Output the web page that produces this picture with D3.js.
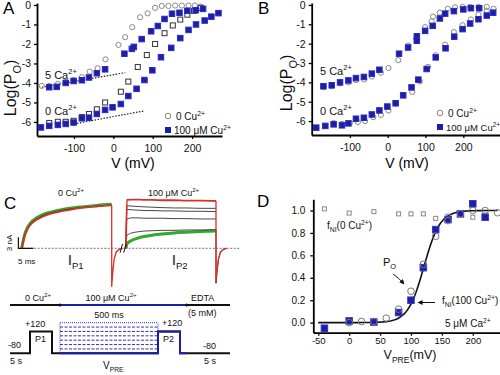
<!DOCTYPE html>
<html><head><meta charset="utf-8">
<script src="https://cdn.jsdelivr.net/npm/d3@7"></script>
<style>
body{margin:0;background:#fff}
svg{display:block;font-family:'Liberation Sans',Arial,sans-serif}
</style>
</head><body>
<svg id="fig" width="500" height="375"></svg>
<script>
// ---------- data ----------
const ticksLog = [0, -1, -2, -3, -4, -5, -6]
const ticksV = [-100, 0, 100, 200]

// panel A  [mV, log Po]
const a5Ca0Cu = [[-182,-4.15],[-163,-4.15],[-141,-4.05],[-121,-3.95],[-101,-3.85],[-80,-3.7],[-60,-3.42],[-40,-3.25],[-20,-2.79],[13,-2.05],[30,-1.65],[48,-1.14],[68,-0.63],[87,-0.43],[106,-0.15],[123,-0.05],[140,-0.05],[157,-0.03],[174,-0.03],[191,-0.03],[207,-0.03],[221,-0.08]]
const a5Ca100Cu = [[-163,-4.22],[-144,-4.2],[-121,-4.0],[-101,-3.9],[-80,-3.86],[-62,-3.72],[-42,-3.5],[-21,-3.3],[28,-2.5],[47,-2.25],[52,-2.15],[72,-1.75],[96,-1.35],[113,-1.08],[130,-0.72],[149,-0.45],[168,-0.4],[188,-0.3],[209,-0.27],[228,-0.2]]
const a0Ca0Cu = [[-163,-6.05],[-141,-5.99],[-121,-5.99],[-101,-5.94],[-80,-5.75],[-62,-5.59],[-42,-5.35],[-21,-5.0],[19,-4.45],[38,-3.93],[62,-3.18],[85,-2.57],[106,-2.0],[130,-1.45],[151,-1.05],[170,-0.75],[188,-0.5],[205,-0.3],[222,-0.15]]
const a0Ca100Cu = [[-184,-6.28],[-163,-6.2],[-141,-6.15],[-121,-6.1],[-101,-6.03],[-80,-5.81],[-62,-5.78],[-42,-5.59],[-21,-5.38],[-2,-5.25],[19,-5.08],[38,-4.67],[59,-4.3],[79,-3.85],[99,-3.35],[121,-2.68],[147,-2.2],[170,-1.7],[191,-1.28],[210,-1.0],[232,-0.8],[249,-0.6],[267,-0.42]]
const aLimit5Ca = [[-182,-4.22],[30,-3.47]]
const aLimit0Ca = [[-100,-6.1],[76,-5.44]]

// panel B  [mV, log Po]
const b5Ca0Cu = [[-170,-4.25],[-148,-4.2],[-126,-4.05],[-104,-4.0],[-84,-3.88],[-62,-3.85],[-42,-3.7],[-18,-3.5],[2,-3.26],[28,-2.85],[54,-2.1],[76,-1.75],[99,-1.15],[116,-0.85],[120,-0.6],[138,-0.4],[159,-0.2],[178,-0.12],[198,-0.1],[218,-0.1],[240,-0.1],[262,-0.1]]
const b5Ca100Cu = [[-170,-4.2],[-148,-4.15],[-126,-4.0],[-104,-3.9],[-84,-3.78],[-63,-3.72],[-42,-3.55],[-22,-3.35],[30,-2.52],[54,-2.2],[77,-1.62],[77,-1.85],[99,-1.34],[119,-1.08],[138,-0.7],[152,-0.45],[175,-0.32],[200,-0.23],[220,-0.17],[242,-0.17]]
const b0Ca0Cu = [[-143,-6.1],[-121,-6.15],[-100,-6.1],[-79,-6.05],[-60,-6.0],[-38,-5.8],[-18,-5.68],[2,-5.45],[21,-5.1],[65,-4.5],[85,-3.95],[107,-3.2],[127,-2.6],[152,-2.05],[175,-1.4],[198,-1.05],[220,-0.75],[240,-0.5],[262,-0.3],[280,-0.2]]
const b0Ca100Cu = [[-189,-6.34],[-165,-6.25],[-143,-6.17],[-121,-6.22],[-104,-6.12],[-84,-5.88],[-63,-5.83],[-42,-5.66],[-22,-5.45],[-1,-5.25],[21,-5.08],[41,-4.67],[63,-4.26],[81,-3.86],[103,-3.31],[127,-2.71],[153,-2.24],[176,-1.64],[198,-1.25],[218,-0.96],[240,-0.74],[262,-0.55],[279,-0.4]]

// panel C  currents (ms, nA)
const tP1 = [0, 1, 2, 3, 5, 8, 12, 16, 20, 25, 30]
const iP1Green = [0, 3.8, 5.8, 7.0, 8.3, 9.5, 10.3, 10.9, 11.3, 11.7, 12.0]
const iP1Black = [0, 3.5, 5.5, 6.7, 8.0, 9.2, 10.1, 10.7, 11.1, 11.5, 11.8]
const iP1Red = [0, 3.3, 5.3, 6.5, 7.8, 9.0, 9.9, 10.5, 11.0, 11.4, 11.7]
const tP2 = [0, 0.3, 2, 4, 6, 9, 12, 16, 20, 25, 30]
const iP2Red = [0, 13.2, 13.3, 13.3, 13.2, 13.2, 13.1, 13.1, 13.0, 13.0, 12.9]
const iP2Black = [
  [0, 11.6, 11.5, 11.4, 11.3, 11.2, 11.1, 11.0, 11.0, 10.9, 10.9],
  [0, 10.6, 10.5, 10.4, 10.3, 10.3, 10.2, 10.2, 10.1, 10.1, 10.0],
  [0, 8.0, 8.3, 8.3, 8.2, 8.2, 8.2, 8.1, 8.1, 8.0, 8.0],
  [0, 3.5, 4.2, 4.5, 4.7, 4.8, 4.9, 4.9, 5.0, 5.0, 5.1]
]
const iP2Green = [0, 1.2, 2.2, 2.8, 3.2, 3.6, 3.9, 4.2, 4.4, 4.6, 4.7]
const tTail = [0, 0.3, 0.8, 1.5, 2.5, 3.5]
const iTail1 = [-10.5, -7, -3, -1, -0.3, 0]
const iTail2 = [-9.5, -6.5, -3, -1, -0.3, 0]

// panel C protocol (schematic units, mV)
const protoSegs = [
  {v: -80, w: 20}, {v: 120, w: 22}, {v: -80, w: 8},
  {v: 'pre', w: 98}, {v: 120, w: 22}, {v: -80, w: 50}
]
const preLevels = [-40, 0, 40, 80, 120, 160, 200]
const cuOn = 50, cuOff = 176.7

// panel D
const dV = [-40, 0, 40, 80, 100, 120, 140, 160, 180, 200, 220]
const dFni100 = [-0.05, 0.015, 0.005, 0.09, 0.2, 0.49, 0.83, 0.92, 0.97, 1.06, 0.94]
const dFni0 = [1.015, 0.977, 0.99, 0.97, 0.97, 0.97, 0.93, 0.95, 0.97, 0.94, 0.96]
const dPoV = [0, 20, 40, 60, 80, 100, 120, 140, 160, 180, 200, 220, 240]
const dPo = [0.0, 0.01, 0.01, 0.04, 0.12, 0.28, 0.52, 0.77, 0.91, 0.97, 1.0, 1.0, 0.98]
const fitVh = 121, fitK = 13   // Boltzmann fit

// ---------- drawing ----------
const blue = '#1d1da6'
const svg = d3.select('#fig')

function rich(g, x, y, parts, size, opt = {}) {
  const t = g.append('text').attr('x', x).attr('y', y).attr('font-size', size)
    .attr('text-anchor', opt.anchor || 'start').attr('fill', opt.fill || '#111')
  if (opt.rotate) t.attr('transform', `rotate(-90,${x},${y})`)
  let shift = 0
  parts.forEach(p => {
    const [txt, kind] = Array.isArray(p) ? p : [p, '']
    const target = kind === 'sup' ? -size * 0.42 : kind === 'sub' ? size * 0.3 : 0
    t.append('tspan').attr('dy', target - shift).attr('font-size', kind ? size * 0.68 : size).text(txt)
    shift = target
  })
  return t
}

function styleAxis(sel, fs) {
  sel.attr('font-family', null).attr('font-size', fs)
  sel.select('.domain').attr('stroke-width', 1.8)
  sel.selectAll('.tick line').attr('stroke-width', 1.3)
  sel.selectAll('.tick text').attr('fill', '#111')
}

function squares(g, data, x, y, s, fill, stroke) {
  g.selectAll(null).data(data).enter().append('rect')
    .attr('x', d => x(d[0]) - s / 2).attr('y', d => y(d[1]) - s / 2)
    .attr('width', s).attr('height', s)
    .attr('fill', fill).attr('stroke', stroke).attr('stroke-width', 1)
}
function circles(g, data, x, y, r, stroke) {
  g.selectAll(null).data(data).enter().append('circle')
    .attr('cx', d => x(d[0])).attr('cy', d => y(d[1])).attr('r', r)
    .attr('fill', 'none').attr('stroke', stroke).attr('stroke-width', 1)
}

function logPanel(cfg) {
  const g = svg.append('g')
  const x = d3.scaleLinear().domain(cfg.xd).range(cfg.xr)
  const y = d3.scaleLinear().domain([0.1, -6.72]).range(cfg.yr)
  g.append('g').attr('transform', `translate(0,${cfg.yr[1]})`)
    .call(d3.axisBottom(x).tickValues(ticksV).tickSize(3).tickSizeOuter(0).tickPadding(6).tickFormat(d => String(d)))
    .call(s => styleAxis(s, 10.5))
  g.append('g').attr('transform', `translate(${cfg.xr[0]},0)`)
    .call(d3.axisLeft(y).tickValues(ticksLog).tickSize(3).tickSizeOuter(0).tickPadding(3).tickFormat(d => String(d)))
    .call(s => styleAxis(s, 10.5))

  const line = d3.line().x(d => x(d[0])).y(d => y(d[1]))
  ;(cfg.limits || []).forEach(l => g.append('path').attr('d', line(l))
    .attr('fill', 'none').attr('stroke', '#222').attr('stroke-width', 1.2).attr('stroke-dasharray', '1.5,1.5'))

  cfg.open.forEach(o => o.sq ? squares(g, o.data, x, y, 5, 'none', '#333')
                              : circles(g, o.data, x, y, 2.6, '#888'))
  cfg.filled.forEach(d => squares(g, d, x, y, 5.5, blue, '#2b2bc0'))

  svg.append('text').attr('x', cfg.letter[0]).attr('y', cfg.letter[1]).attr('font-size', 17).text(cfg.letter[2])
  rich(svg, cfg.ylab[0], cfg.ylab[1], ['Log(P', ['O', 'sub'], ')'], 16, {anchor: 'middle', rotate: true})
  svg.append('text').attr('x', cfg.xlab[0]).attr('y', cfg.xlab[1]).attr('font-size', 14)
    .attr('text-anchor', 'middle').text('V (mV)')
  rich(svg, cfg.ca5[0], cfg.ca5[1], ['5 Ca', ['2+', 'sup']], 11)
  rich(svg, cfg.ca0[0], cfg.ca0[1], ['0 Ca', ['2+', 'sup']], 11)
  const [lx, ly] = cfg.legend
  svg.append('circle').attr('cx', lx).attr('cy', ly).attr('r', 2.8).attr('fill', 'none').attr('stroke', '#888')
  rich(svg, lx + 8, ly + 4, ['0 Cu', ['2+', 'sup']], 10)
  svg.append('rect').attr('x', lx - 3).attr('y', ly + 11).attr('width', 6).attr('height', 6).attr('fill', blue)
  rich(svg, lx + 6, ly + 18, ['100 \u03BCM Cu', ['2+', 'sup']], cfg.legFs || 10)
}

logPanel({
  xd: [-194, 276], xr: [37, 222], yr: [3, 136],
  open: [{data: a5Ca0Cu}, {data: a0Ca0Cu, sq: true}],
  filled: [a5Ca100Cu, a0Ca100Cu],
  limits: [aLimit5Ca, aLimit0Ca],
  letter: [3, 14, 'A'], ylab: [16, 88], xlab: [133, 168],
  ca5: [45, 79], ca0: [45, 115], legend: [168, 116]
})
logPanel({
  xd: [-201, 297], xr: [311.7, 500], yr: [3, 135],
  open: [{data: b5Ca0Cu}, {data: b0Ca0Cu}],
  filled: [b5Ca100Cu, b0Ca100Cu],
  letter: [258, 14, 'B'], ylab: [292, 83], xlab: [407, 168],
  ca5: [320, 75], ca0: [320, 115], legend: [440, 113], legFs: 9.5
})

// ---- panel C: currents ----
const gC = svg.append('g')
const xP1 = d3.scaleLinear().domain([0, 30]).range([21.7, 111.7])
const xP2 = d3.scaleLinear().domain([0, 30]).range([126, 216])
const yI = d3.scaleLinear().domain([0, 3]).range([248.3, 237.3])

gC.append('line').attr('x1', xP1(-0.5)).attr('x2', xP2(38)).attr('y1', yI(0)).attr('y2', yI(0))
  .attr('stroke', '#555').attr('stroke-width', 0.8).attr('stroke-dasharray', '2,1.5')

function trace(xs, ts, is, color, w) {
  const ln = d3.line().x(d => xs(d[0])).y(d => yI(d[1])).curve(d3.curveMonotoneX)
  gC.append('path').attr('d', ln(ts.map((t, i) => [t, is[i]])))
    .attr('fill', 'none').attr('stroke', color).attr('stroke-width', w)
}
function tail(xs, tEnd, iEnd, tails, color, w) {
  const pts = [[tEnd, iEnd]].concat(tTail.map((t, i) => [tEnd + t, tails[i]]))
  const ln = d3.line().x(d => xs(d[0])).y(d => yI(d[1]))
  gC.append('path').attr('d', ln(pts)).attr('fill', 'none').attr('stroke', color).attr('stroke-width', w)
}

trace(xP1, tP1, iP1Green, '#2eaa2e', 3)
trace(xP1, tP1, iP1Black, '#222', 1)
trace(xP1, tP1, iP1Red, '#d8302a', 1.8)
tail(xP1, 30, iP1Red[iP1Red.length - 1], iTail1, '#d8302a', 1.3)

trace(xP2, tP2, iP2Green, '#2eaa2e', 3)
iP2Black.forEach(b => trace(xP2, tP2, b, '#333', 0.9))
trace(xP2, tP2, iP2Red, '#d8302a', 1.8)
tail(xP2, 30, iP2Black[3][10], iTail2, '#333', 1)
tail(xP2, 30, iP2Red[iP2Red.length - 1], iTail2, '#d8302a', 1.3)

// axis break
;[0, 1.2].forEach(dt => gC.append('line')
  .attr('x1', xP1(32.8 + dt)).attr('x2', xP1(33.6 + dt)).attr('y1', yI(-1.2)).attr('y2', yI(1.2))
  .attr('stroke', '#111').attr('stroke-width', 1))

// scale bar
gC.append('path').attr('d', `M${xP1(-1.1)},${yI(3)}V${yI(0)}H${xP1(3.9)}`)
  .attr('fill', 'none').attr('stroke', '#111').attr('stroke-width', 1.2)
rich(gC, 12, 243, ['3 nA'], 8, {anchor: 'middle', rotate: true})
rich(gC, 18, 264, ['5 ms'], 8)
svg.append('text').attr('x', 4).attr('y', 209).attr('font-size', 17).text('C')
rich(gC, 58, 196, ['0 Cu', ['2+', 'sup']], 9)
rich(gC, 148, 196, ['100 \u03BCM Cu', ['2+', 'sup']], 9)
rich(gC, 68, 265, ['I', ['P1', 'sub']], 14)
rich(gC, 172, 265, ['I', ['P2', 'sub']], 14)

// ---- panel C: protocol ----
const gP = svg.append('g')
const xS = d3.scaleLinear().domain([0, 220]).range([10, 230])
const yV = d3.scaleLinear().domain([-80, 200]).range([353.3, 322.7])
let acc = 0
const bounds = protoSegs.map(s => { const b = {...s, t0: acc, t1: acc + s.w}; acc += s.w; return b })
const protoPts = []
bounds.forEach(b => { const v = b.v === 'pre' ? -80 : b.v; protoPts.push([b.t0, v], [b.t1, v]) })
const pLine = d3.line().x(d => xS(d[0])).y(d => yV(d[1]))
gP.append('path').attr('d', pLine(protoPts)).attr('fill', 'none').attr('stroke', '#111').attr('stroke-width', 2)
gP.append('clipPath').attr('id', 'cuClip').append('rect')
  .attr('x', xS(cuOn)).attr('y', 300).attr('width', xS(cuOff) - xS(cuOn)).attr('height', 60)
gP.append('path').attr('d', pLine(protoPts)).attr('clip-path', 'url(#cuClip)')
  .attr('fill', 'none').attr('stroke', blue).attr('stroke-width', 2)

const pre = bounds[3]
preLevels.forEach((lv, i) => gP.append('line')
  .attr('x1', xS(pre.t0)).attr('x2', xS(pre.t1)).attr('y1', yV(lv)).attr('y2', yV(lv))
  .attr('stroke', blue).attr('stroke-width', 0.9).attr('stroke-dasharray', i === preLevels.length - 1 ? '1,1' : '3,1.5'))
;[pre.t0, pre.t1].forEach(t => gP.append('line')
  .attr('x1', xS(t)).attr('x2', xS(t)).attr('y1', yV(-80)).attr('y2', yV(200))
  .attr('stroke', blue).attr('stroke-width', 0.9).attr('stroke-dasharray', '1,1'))

// solution bar
const solY = 305
gP.append('line').attr('x1', xS(0)).attr('x2', xS(220)).attr('y1', solY).attr('y2', solY)
  .attr('stroke', '#111').attr('stroke-width', 2)
gP.append('line').attr('x1', xS(cuOn)).attr('x2', xS(cuOff)).attr('y1', solY).attr('y2', solY)
  .attr('stroke', blue).attr('stroke-width', 2.2)
;[cuOn, cuOff].forEach(t => gP.append('circle').attr('cx', xS(t)).attr('cy', solY).attr('r', 1.5).attr('fill', '#111'))

rich(gP, 25, 301, ['0 Cu', ['2+', 'sup']], 9)
rich(gP, 111, 301, ['100 \u03BCM Cu', ['2+', 'sup']], 9, {anchor: 'middle'})
rich(gP, 191, 301, ['EDTA'], 9)
rich(gP, 188, 316, ['(5 mM)'], 9)
rich(gP, xS((pre.t0 + pre.t1) / 2), 318, ['500 ms'], 9, {anchor: 'middle'})
rich(gP, 8, 348, ['-80'], 9)
rich(gP, 25, 327, ['+120'], 9)
rich(gP, 35, 342, ['P1'], 9)
rich(gP, 163, 342, ['P2'], 9)
rich(gP, 162, 326, ['+120'], 9)
rich(gP, 203, 349, ['-80'], 9)
rich(gP, 10, 364, ['5 s'], 9)
rich(gP, 204, 364, ['5 s'], 9)
rich(gP, 103, 369, ['V', ['PRE', 'sub']], 10)

// ---- panel D ----
const gD = svg.append('g')
const xD = d3.scaleLinear().domain([-58, 244]).range([313.3, 500])
const yD = d3.scaleLinear().domain([-0.09, 1.1]).range([332.7, 199.3])
gD.append('g').attr('transform', `translate(0,${yD(-0.09)})`)
  .call(d3.axisBottom(xD).tickValues([-50, 0, 50, 100, 150, 200]).tickSize(3).tickSizeOuter(0).tickPadding(1.5).tickFormat(d => String(d)))
  .call(s => styleAxis(s, 9.5))
gD.append('g').attr('transform', `translate(${xD(-58)},0)`)
  .call(d3.axisLeft(yD).tickValues([0, 0.2, 0.4, 0.6, 0.8, 1.0]).tickSize(3).tickSizeOuter(0).tickPadding(5).tickFormat(d3.format('.1f')))
  .call(s => styleAxis(s, 10))

const fitV = d3.range(-50, 241, 2)
gD.append('path').attr('d', d3.line().x(v => xD(v)).y(v => yD(1 / (1 + Math.exp((fitVh - v) / fitK))))(fitV))
  .attr('fill', 'none').attr('stroke', '#111').attr('stroke-width', 1.6)
squares(gD, dV.map((v, i) => [v, dFni0[i]]), xD, yD, 4, 'none', '#888')
squares(gD, dV.map((v, i) => [v, dFni100[i]]), xD, yD, 6.5, blue, '#3535c8')
circles(gD, dPoV.map((v, i) => [v, dPo[i]]), xD, yD, 3.3, '#777')

svg.append('text').attr('x', 257).attr('y', 207).attr('font-size', 17).text('D')
rich(gD, 327, 229, ['f', ['NI', 'sub'], '(0 Cu', ['2+', 'sup'], ')'], 10)
rich(gD, 383, 266, ['P', ['O', 'sub']], 11)
rich(gD, 442, 304, ['f', ['NI', 'sub'], '(100 Cu', ['2+', 'sup'], ')'], 10)
rich(gD, 445, 327, ['5  \u03BCM Ca', ['2+', 'sup']], 10)
rich(gD, 410, 359, ['V', ['PRE', 'sub'], '(mV)'], 12.5, {anchor: 'middle'})

svg.append('defs').append('marker').attr('id', 'arr').attr('viewBox', '0 0 10 10')
  .attr('refX', 9).attr('refY', 5).attr('markerWidth', 5).attr('markerHeight', 5).attr('orient', 'auto')
  .append('path').attr('d', 'M0,0L10,5L0,10z').attr('fill', '#111')
gD.append('path').attr('d', 'M393,274Q399,278 404,284').attr('fill', 'none')
  .attr('stroke', '#111').attr('stroke-width', 1).attr('marker-end', 'url(#arr)')
gD.append('line').attr('x1', 435).attr('y1', 302.5).attr('x2', 418).attr('y2', 302.5)
  .attr('stroke', '#111').attr('stroke-width', 1).attr('marker-end', 'url(#arr)')
</script>
</body></html>
